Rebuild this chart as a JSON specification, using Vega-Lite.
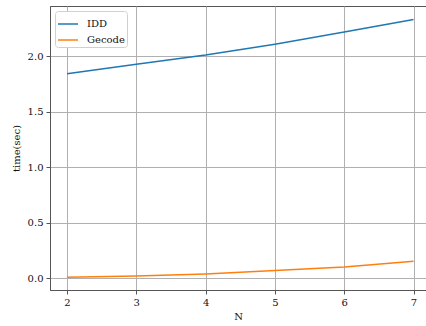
{
  "$schema": "https://vega.github.io/schema/vega-lite/v6.json",
  "width": 376,
  "height": 284,
  "autosize": "none",
  "padding": {"left": 50, "top": 6, "right": 0, "bottom": 36},
  "background": "white",
  "config": {
    "font": "DejaVu Serif",
    "view": {"stroke": "#555", "strokeWidth": 1},
    "axis": {
      "labelFont": "DejaVu Serif",
      "labelFontSize": 10,
      "labelColor": "#111",
      "titleFont": "DejaVu Serif",
      "titleFontSize": 10,
      "titleFontWeight": "normal",
      "titleColor": "#111",
      "domainColor": "#555",
      "domainWidth": 1,
      "tickColor": "#555",
      "tickSize": 4,
      "tickWidth": 1,
      "labelPadding": 3,
      "gridColor": "#b0b0b0",
      "gridWidth": 1,
      "gridOpacity": 1
    },
    "legend": {
      "labelFont": "DejaVu Serif",
      "labelFontSize": 10,
      "labelColor": "#111"
    }
  },
  "data": {
    "values": [
      {"N": 2, "time": 1.844, "solver": "IDD"},
      {"N": 3, "time": 1.929, "solver": "IDD"},
      {"N": 4, "time": 2.012, "solver": "IDD"},
      {"N": 5, "time": 2.110, "solver": "IDD"},
      {"N": 6, "time": 2.220, "solver": "IDD"},
      {"N": 7, "time": 2.334, "solver": "IDD"},
      {"N": 2, "time": 0.006, "solver": "Gecode"},
      {"N": 3, "time": 0.018, "solver": "Gecode"},
      {"N": 4, "time": 0.036, "solver": "Gecode"},
      {"N": 5, "time": 0.067, "solver": "Gecode"},
      {"N": 6, "time": 0.099, "solver": "Gecode"},
      {"N": 7, "time": 0.151, "solver": "Gecode"}
    ]
  },
  "mark": {"type": "line", "strokeWidth": 1.5, "clip": true},
  "encoding": {
    "x": {
      "field": "N",
      "type": "quantitative",
      "scale": {"domain": [1.755, 7.18], "nice": false, "zero": false},
      "axis": {"values": [2, 3, 4, 5, 6, 7], "format": "d", "title": "N", "titlePadding": 4}
    },
    "y": {
      "field": "time",
      "type": "quantitative",
      "scale": {"domain": [-0.108, 2.455], "nice": false, "zero": false},
      "axis": {"values": [0, 0.5, 1, 1.5, 2], "format": ".1f", "title": "time(sec)", "titlePadding": 6}
    },
    "color": {
      "field": "solver",
      "type": "nominal",
      "scale": {"domain": ["IDD", "Gecode"], "range": ["#1f77b4", "#ff7f0e"]},
      "legend": {
        "title": null,
        "orient": "none",
        "legendX": 5,
        "legendY": 5,
        "symbolType": "stroke",
        "symbolSize": 400,
        "symbolStrokeWidth": 1.5,
        "labelOffset": 8,
        "rowPadding": -5,
        "padding": 2,
        "strokeColor": "#d0d0d0",
        "fillColor": "white",
        "cornerRadius": 3
      }
    }
  }
}
